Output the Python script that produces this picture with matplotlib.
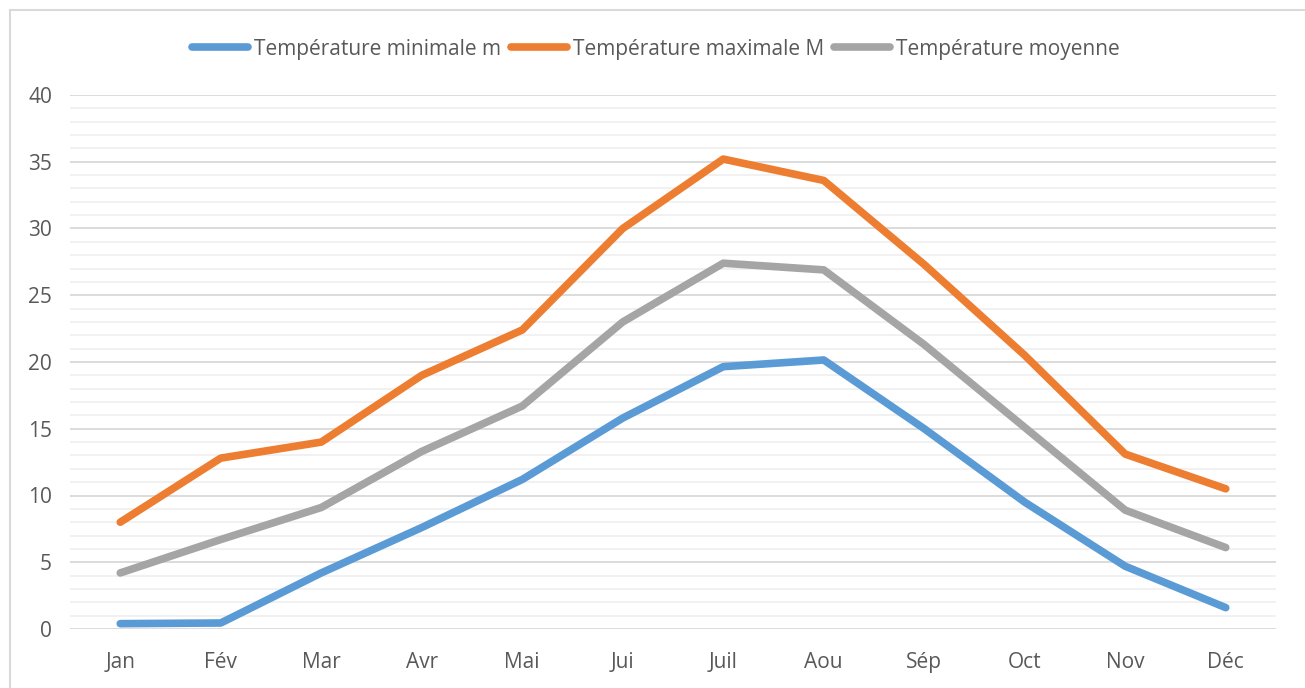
import matplotlib
matplotlib.use("Agg")
import matplotlib.pyplot as plt
from matplotlib.patches import Rectangle
from matplotlib.ticker import MultipleLocator

months = ["Jan", "Fév", "Mar", "Avr", "Mai", "Jui", "Juil", "Aou", "Sép", "Oct", "Nov", "Déc"]
t_min = [0.4, 0.45, 4.2, 7.6, 11.2, 15.8, 19.65, 20.15, 15.0, 9.5, 4.7, 1.6]
t_max = [8.0, 12.8, 14.0, 19.0, 22.4, 30.0, 35.2, 33.6, 27.3, 20.5, 13.1, 10.5]
t_moy = [4.2, 6.7, 9.1, 13.3, 16.7, 23.0, 27.4, 26.9, 21.3, 15.1, 8.9, 6.1]
labels = ["Température minimale m", "Température maximale M", "Température moyenne"]
colors = ["#5B9BD5", "#ED7D31", "#A5A5A5"]

plt.rcParams['font.family'] = ['Open Sans', 'DejaVu Sans']
text_color = "#595959"

W, H = 1305, 688
fig = plt.figure(figsize=(W / 100, H / 100), dpi=100)
fig.patch.set_facecolor("white")

# chart frame
fig.patches.append(Rectangle((10 / W, -0.1), 1.2, 1 - 10 / H + 0.1, transform=fig.transFigure,
                             fill=False, edgecolor="#D9D9D9", linewidth=1.5))

left, right, top, bottom = 70, 1276, 95, 629
ax = fig.add_axes([left / W, 1 - bottom / H, (right - left) / W, (bottom - top) / H])

x = list(range(len(months)))
for vals, lab, col in zip([t_min, t_max, t_moy], labels, colors):
    ax.plot(x, vals, color=col, linewidth=5.5, solid_capstyle='round', solid_joinstyle='round',
            label=lab, zorder=3)

ax.set_xlim(-0.5, len(months) - 0.5)
ax.set_ylim(0, 40)
ax.yaxis.set_major_locator(MultipleLocator(5))
ax.yaxis.set_minor_locator(MultipleLocator(1))
ax.set_xticks(x)
ax.set_xticklabels(months)
ax.grid(axis='y', which='major', color="#D9D9D9", linewidth=1.3, zorder=0)
ax.grid(axis='y', which='minor', color="#F0F0F0", linewidth=1.3, zorder=0)
ax.set_axisbelow(True)
for s in ax.spines.values():
    s.set_visible(False)
ax.tick_params(axis='both', which='both', length=0, labelsize=15, labelcolor=text_color)
ax.tick_params(axis='x', pad=16.5)
ax.tick_params(axis='y', pad=13)

fig.legend(loc='center', bbox_to_anchor=(656 / W, 1 - 49 / H), ncol=3, frameon=False,
           fontsize=15, handlelength=2.65, handletextpad=0.3, columnspacing=0.5,
           labelcolor=text_color)

fig.savefig("out.png", dpi=100, facecolor="white")
